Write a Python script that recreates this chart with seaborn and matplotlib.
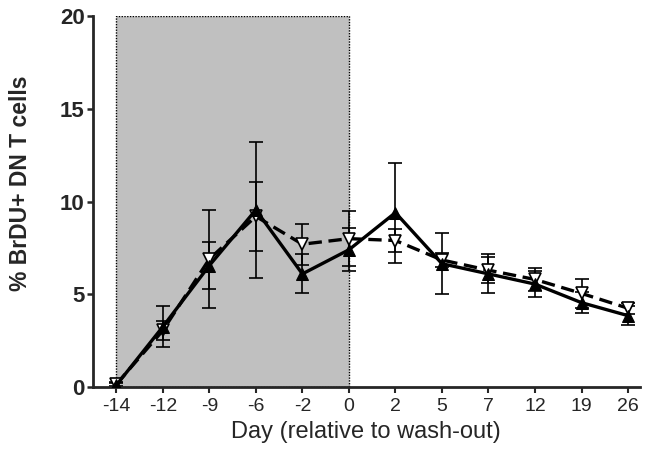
import numpy as np
import pandas as pd
import matplotlib.pyplot as plt
import seaborn as sns

# data
days = ["-14", "-12", "-9", "-6", "-2", "0", "2", "5", "7", "12", "19", "26"]
solid_mean = [0.1, 3.25, 6.55, 9.55, 6.1, 7.4, 9.4, 6.65, 6.1, 5.55, 4.55, 3.85]
solid_err = [0.1, 1.1, 1.25, 3.65, 1.05, 1.15, 2.7, 1.65, 1.05, 0.7, 0.55, 0.5]
dashed_mean = [0.15, 3.05, 6.9, 9.2, 7.7, 8.0, 7.9, 6.85, 6.3, 5.8, 5.05, 4.25]
dashed_err = [0.1, 0.5, 2.65, 1.85, 1.1, 1.5, 0.6, 0.4, 0.7, 0.6, 0.8, 0.3]

pos = np.arange(len(days))
df_solid = pd.DataFrame({"pos": pos, "pct": solid_mean})
df_dashed = pd.DataFrame({"pos": pos, "pct": dashed_mean})

sns.set_style("ticks")
plt.rcParams['font.family'] = ['Liberation Sans', 'DejaVu Sans']

fig = plt.figure(figsize=(6.57, 4.57), dpi=100)
ax = fig.add_axes([0.1416, 0.153, 0.832, 0.812])

# shaded BrdU pulse window (-14 to 0)
ax.add_patch(plt.Rectangle((0, 0), 5, 20, facecolor="#c0c0c0", edgecolor="black",
                           linestyle=(0, (1, 1)), linewidth=1, zorder=0))

ax.errorbar(pos, dashed_mean, yerr=dashed_err, fmt="none", ecolor="black",
            elinewidth=1.2, capsize=5, capthick=1.2, zorder=2)
ax.errorbar(pos, solid_mean, yerr=solid_err, fmt="none", ecolor="black",
            elinewidth=1.2, capsize=5, capthick=1.2, zorder=2)

sns.lineplot(data=df_dashed, x="pos", y="pct", ax=ax, color="black",
             linewidth=2.4, linestyle=(0, (4, 2)), marker="v", markersize=9,
             markerfacecolor="white", markeredgecolor="black",
             markeredgewidth=1.2, zorder=3)
sns.lineplot(data=df_solid, x="pos", y="pct", ax=ax, color="black",
             linewidth=2.4, marker="^", markersize=9,
             markerfacecolor="black", markeredgecolor="black", zorder=4)

ax.set_xlim(-0.5, 11.25)
ax.set_ylim(0, 20)
ax.set_xticks(pos)
ax.set_xticklabels(days, fontsize=14)
ax.set_yticks([0, 5, 10, 15, 20])
ax.set_yticklabels(["0", "5", "10", "15", "20"], fontsize=16, fontweight="bold")
ax.tick_params(axis="x", length=4, width=1.5, pad=4)
ax.tick_params(axis="y", length=4, width=1.8, pad=2)
ax.set_xlabel("Day (relative to wash-out)", fontsize=17, labelpad=4)
ax.set_ylabel("% BrDU+ DN T cells", fontsize=16.5, fontweight="bold")
ax.yaxis.set_label_coords(-0.112, 0.55)

sns.despine(ax=ax)
for side in ["left", "bottom"]:
    ax.spines[side].set_linewidth(2)

plt.savefig("out.png", dpi=100)
plt.close()
